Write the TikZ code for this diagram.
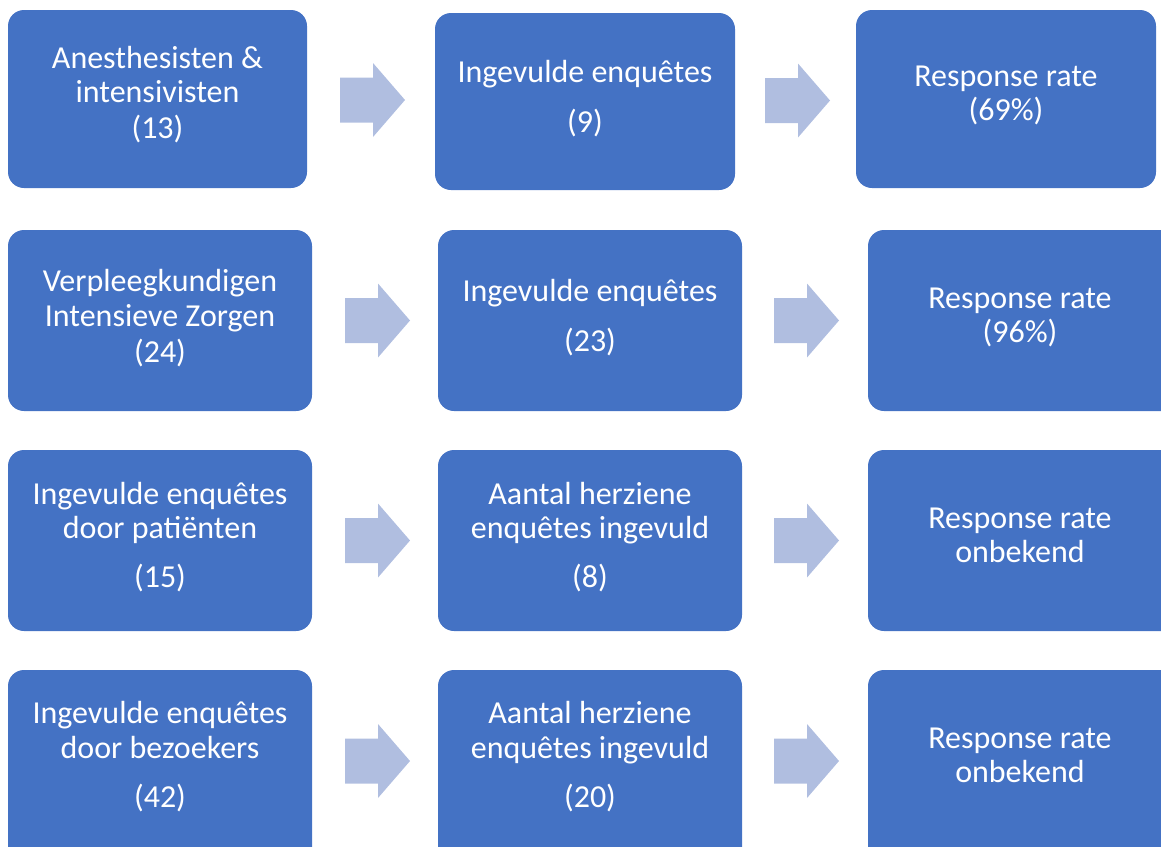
\documentclass[tikz,border=0pt]{standalone}
\usepackage{fontspec}
\setmainfont{Carlito}
\definecolor{boxblue}{HTML}{4472C4}
\definecolor{arrowblue}{HTML}{B0BEE0}
\tikzset{
  x=1pt, y=-1pt,
  box/.style={fill=boxblue, draw=none, rounded corners=16pt},
  txt/.style={text=white, anchor=base, inner sep=0pt, font=\fontsize{32}{35}\selectfont},
  blockarrow/.pic={\fill[arrowblue] (0,-22.5) -- (33,-22.5) -- (33,-37) -- (65,0) -- (33,37) -- (33,22.5) -- (0,22.5) -- cycle;}
}
\begin{document}
\begin{tikzpicture}
\useasboundingbox (0,0) rectangle (1161,846);
\clip (0,0) rectangle (1161,846);
% row 1
\fill[box] (8,10) rectangle (307,188);
\fill[box] (435,13) rectangle (735,190);
\fill[box] (856,10) rectangle (1156,188);
\pic (ar1a) at (340,100) {blockarrow};
\pic (ar1b) at (765,100.5) {blockarrow};
\node[txt] (a1l1) at (157.5,68) {Anesthesisten \&};
\node[txt] (a1l2) at (157.5,102) {intensivisten};
\node[txt] (a1l3) at (157.5,138) {(13)};
\node[txt] (b1l1) at (585,82) {Ingevulde enquêtes};
\node[txt] (b1l2) at (585,132) {(9)};
\node[txt] (c1l1) at (1006,86) {Response rate};
\node[txt] (c1l2) at (1006,120) {(69\%)};
% row 2
\fill[box] (8,230) rectangle (312,411);
\fill[box] (438,230) rectangle (742,411);
\fill[box] (868,230) rectangle (1180,411);
\pic (ar2a) at (345,320.5) {blockarrow};
\pic (ar2b) at (774,320.5) {blockarrow};
\node[txt] (a2l1) at (160,291) {Verpleegkundigen};
\node[txt] (a2l2) at (160,326) {Intensieve Zorgen};
\node[txt] (a2l3) at (160,362) {(24)};
\node[txt] (b2l1) at (590,301) {Ingevulde enquêtes};
\node[txt] (b2l2) at (590,351) {(23)};
\node[txt] (c2l1) at (1020,308) {Response rate};
\node[txt] (c2l2) at (1020,342) {(96\%)};
% row 3
\fill[box] (8,450) rectangle (312,631);
\fill[box] (438,450) rectangle (742,631);
\fill[box] (868,450) rectangle (1180,631);
\pic (ar3a) at (345,540.5) {blockarrow};
\pic (ar3b) at (774,540.5) {blockarrow};
\node[txt] (a3l1) at (160,504) {Ingevulde enquêtes};
\node[txt] (a3l2) at (160,538) {door patiënten};
\node[txt] (a3l3) at (160,587) {(15)};
\node[txt] (b3l1) at (590,504) {Aantal herziene};
\node[txt] (b3l2) at (590,538) {enquêtes ingevuld};
\node[txt] (b3l3) at (590,587) {(8)};
\node[txt] (c3l1) at (1020,528) {Response rate};
\node[txt] (c3l2) at (1020,562) {onbekend};
% row 4
\fill[box] (8,670) rectangle (312,870);
\fill[box] (438,670) rectangle (742,870);
\fill[box] (868,670) rectangle (1180,870);
\pic (ar4a) at (345,761) {blockarrow};
\pic (ar4b) at (774,761) {blockarrow};
\node[txt] (a4l1) at (160,723) {Ingevulde enquêtes};
\node[txt] (a4l2) at (160,758) {door bezoekers};
\node[txt] (a4l3) at (160,807) {(42)};
\node[txt] (b4l1) at (590,723) {Aantal herziene};
\node[txt] (b4l2) at (590,758) {enquêtes ingevuld};
\node[txt] (b4l3) at (590,807) {(20)};
\node[txt] (c4l1) at (1020,748) {Response rate};
\node[txt] (c4l2) at (1020,782) {onbekend};
\end{tikzpicture}
\end{document}
